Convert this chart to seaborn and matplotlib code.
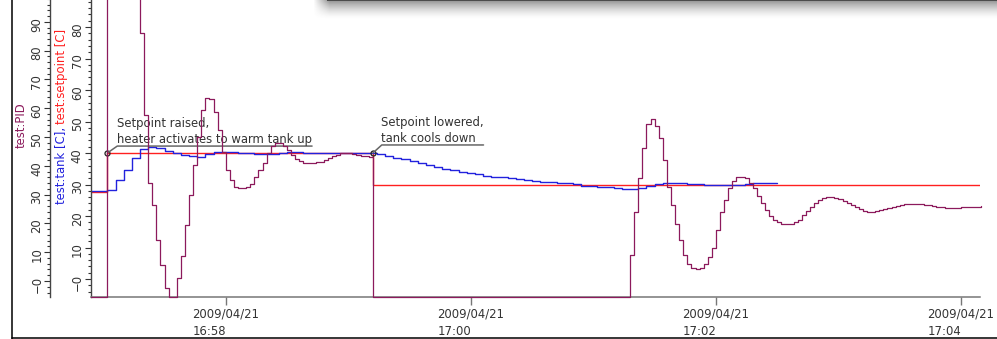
# ============================================================
#   Data Browser - test:PID / test:tank / test:setpoint
# ============================================================

import numpy as np
import pandas as pd
import matplotlib
matplotlib.use("Agg")
import matplotlib.pyplot as plt
import matplotlib.dates as mdates
from matplotlib.ticker import MultipleLocator, FixedLocator, FuncFormatter
from matplotlib.lines import Line2D
import seaborn as sns

# ------------------------------------------------------------
# 1. DADOS
# ------------------------------------------------------------

inicio = "2009-04-21 16:56:54"
fim = "2009-04-21 17:04:09.3"

# test:PID, uma amostra a cada 2 s (BAIXO = abaixo da escala)
BAIXO = -10
pid_passo_s = 2
pid = (
    [BAIXO] * 4
    + [100] * 8
    + [86, 57.6, 34, 26.4, 14.2, 5.6, -2.4]
    + [BAIXO] * 2
    + [1.0, 8.7, 19.4, 29.9, 40.3, 50, 59.4, 63.5, 63.2, 58.7, 52.4, 44.8,
       38.5, 35.1, 32.6, 32.3, 32.3, 32.6, 33.7, 36.1, 38.5, 41, 44.4, 46.9,
       47.9, 47.9, 46.9, 45.5, 43.8, 42.4, 41.7, 41, 41, 41, 41.3, 41.3,
       42, 42.7, 43.4, 43.8, 44.4, 44.4, 44.4, 44.1, 43.8, 43.4, 43.4, 43.1]
    + [BAIXO] * 63
    + [9.0, 24, 35.8, 46.2, 54.5, 56.3, 53.8, 49.7, 42, 32.6, 26.4, 19.8,
       14.2, 9.0, 5.9, 4.5, 4.2, 4.5, 5.9, 8.3, 11.5, 17.7, 24, 28.1,
       32.3, 34.7, 36.1, 36.1, 35.8, 34, 32.3, 29.5, 27.1, 24.7, 22.6, 21.2,
       20.5, 19.8, 19.8, 19.8, 20.5, 21.2, 22.9, 24.3, 25.7, 27.1, 28.1, 28.8,
       29.2, 29.2, 28.8, 28.5, 27.8, 27.1, 26.4, 25.7, 25, 24.3, 24, 24,
       24.3, 24.7, 25, 25.3, 25.7, 26, 26.4, 26.7, 26.7, 26.7, 26.7, 26.7,
       26.4, 26.4, 26, 25.7, 25.7, 25.3, 25.3, 25.3, 25.3, 25.7, 25.7, 25.7,
       25.7, 25.7, 26.0]
)

# test:tank [C], uma amostra a cada 4 s
tank_passo_s = 4
tank = [27.9, 27.9, 28.3, 31.4, 34.6, 38.4, 41.3, 41.9, 41.6, 40.6,
        40, 39.4, 39, 38.7, 39.7, 40.3, 40.3, 40.3, 40, 40,
        39.7, 39.7, 39.7, 40, 40.3, 40.3, 40, 40, 40, 40,
        40, 40, 40, 40, 40, 39.7, 39, 38.4, 38.1, 37.5,
        36.8, 36.2, 35.6, 34.9, 34.6, 34, 33.7, 33.3, 32.7, 32.4,
        32.4, 32.1, 31.7, 31.4, 31.1, 30.8, 30.8, 30.5, 30.5, 30.2,
        29.5, 29.5, 29.2, 29.2, 28.9, 28.6, 28.6, 28.9, 29.5, 30.2,
        30.5, 30.5, 30.5, 30.2, 30.2, 29.8, 29.8, 29.8, 29.8, 29.8,
        30.2, 30.5, 30.5, 30.5, 30.5]

# test:setpoint [C], valor a partir de cada instante
setpoint_horas = ["16:56:54", "16:57:02", "16:59:12", "17:04:10"]
setpoint = [27.6, 40, 30, 30]

# anotações
anot_horas = ["16:57:02", "16:59:12"]
anot_valores = [40, 40]
anot_textos = ["Setpoint raised,\nheater activates to warm tank up",
               "Setpoint lowered,\ntank cools down"]

xticks_horas = ["16:58", "17:00", "17:02", "17:04"]
xticks_rotulos = ["2009/04/21\n16:58", "2009/04/21\n17:00",
                  "2009/04/21\n17:02", "2009/04/21\n17:04"]

# marcas principais visíveis em cada eixo y
yticks_int = [0, 10, 20, 30, 40, 50, 60, 70, 80]
yticks_pid = [0, 10, 20, 30, 40, 50, 60, 70, 80, 90]

# ------------------------------------------------------------
# 2. TABELAS
# ------------------------------------------------------------

dia = "2009-04-21 "
df_pid = pd.DataFrame({
    "hora": pd.date_range(inicio, periods=len(pid), freq=f"{pid_passo_s}s"),
    "valor": pid,
})
df_tank = pd.DataFrame({
    "hora": pd.date_range(inicio, periods=len(tank), freq=f"{tank_passo_s}s"),
    "valor": tank,
})
df_sp = pd.DataFrame({
    "hora": pd.to_datetime([dia + h for h in setpoint_horas]),
    "valor": setpoint,
})

# ------------------------------------------------------------
# 3. ESTILO
# ------------------------------------------------------------

sns.set_theme(style="ticks")
plt.rcParams["font.family"] = ["DejaVu Sans"]
FS = 8.4

COR_PID = "#8c1a5c"
COR_TANK = "#2222dd"
COR_SP = "#ff2020"
COR_TXT = "#333333"

W, H = 997, 339
fig = plt.figure(figsize=(W / 100, H / 100), dpi=100)
fig.patch.set_facecolor("white")

# eixo interno (tank / setpoint) - topo fica acima da imagem
ax = fig.add_axes([91 / W, 42 / H, 889 / W, 344 / H])
ax_pid = ax.twinx()

LIM_INT = (-5.71, 103.5)
LIM_PID = (-5.56, 113.9)

# ------------------------------------------------------------
# 4. GRÁFICOS
# ------------------------------------------------------------

sns.lineplot(data=df_sp, x="hora", y="valor", ax=ax, color=COR_SP,
             drawstyle="steps-post", lw=1.0, errorbar=None)
sns.lineplot(data=df_tank, x="hora", y="valor", ax=ax, color=COR_TANK,
             drawstyle="steps-post", lw=1.0, errorbar=None)

# valores fora da escala ficam desenhados na borda inferior
df_pid["plot"] = df_pid["valor"].clip(lower=LIM_PID[0])
sns.lineplot(data=df_pid, x="hora", y="plot", ax=ax_pid, color=COR_PID,
             drawstyle="steps-post", lw=0.9, errorbar=None, clip_on=False)

ax.set_xlim(pd.Timestamp(inicio), pd.Timestamp(fim))
ax.set_ylim(*LIM_INT)
ax_pid.set_ylim(*LIM_PID)

for a in (ax, ax_pid):
    a.set_xlabel("")
    a.set_ylabel("")
    a.spines["top"].set_visible(False)
    a.spines["right"].set_visible(False)

# eixo externo (PID) à esquerda
ax_pid.spines["left"].set_visible(True)
ax_pid.spines["left"].set_position(("outward", 41 * 0.72))
ax_pid.yaxis.set_ticks_position("left")
ax_pid.spines["bottom"].set_visible(False)

fmt = FuncFormatter(lambda v, p: "\u22120" if abs(v) < 1e-9 else f"{v:.0f}")
for a, pad, marcas in ((ax, 0.8, yticks_int), (ax_pid, 0.4, yticks_pid)):
    a.yaxis.set_major_locator(FixedLocator(marcas))
    a.yaxis.set_minor_locator(MultipleLocator(2))
    a.yaxis.set_major_formatter(fmt)
    a.tick_params(axis="y", which="major", length=4.3, width=0.8,
                  color="#333333", labelsize=FS, labelcolor=COR_TXT,
                  labelrotation=90, pad=pad, left=True)
    a.tick_params(axis="y", which="minor", length=2.3, width=0.8,
                  color="#333333", left=True)
    a.spines["left"].set_color("#444444")
    a.spines["left"].set_linewidth(1.0)

# eixo do tempo
ax.set_xticks(mdates.date2num(pd.to_datetime([dia + h for h in xticks_horas])))
ax.set_xticklabels(xticks_rotulos, multialignment="left", linespacing=1.45)
ax.tick_params(axis="x", length=5.8, width=1.0, color="#777777",
               labelsize=FS, labelcolor=COR_TXT, pad=2, bottom=True)
ax.spines["bottom"].set_color("#777777")
ax.spines["bottom"].set_linewidth(1.1)

# rótulos dos eixos
fig.text(21 / W, 1 - 125 / H, "test:PID", rotation=90, ha="center",
         va="center", color=COR_PID, fontsize=FS)
y_meio = 1 - 127 / H
fig.text(62 / W, y_meio, "test:tank [C],", rotation=90, ha="center",
         va="top", color=COR_TANK, fontsize=FS)
fig.text(62 / W, y_meio + 3 / H, "test:setpoint [C]", rotation=90,
         ha="center", va="bottom", color=COR_SP, fontsize=FS)

# ------------------------------------------------------------
# 5. ANOTAÇÕES
# ------------------------------------------------------------

for hora, valor, texto, desl, ang in zip(anot_horas, anot_valores, anot_textos,
                                         [(7.0, 5.0), (5.8, 5.8)], [35, 42]):
    xd = mdates.date2num(pd.Timestamp(dia + hora))
    ax.plot([xd], [valor], marker="o", ms=3.6, mfc="none", mec="#222222",
            mew=0.9, zorder=6)
    ax.annotate(texto, xy=(xd, valor), xytext=desl, textcoords="offset points",
                ha="left", va="bottom", fontsize=FS, color=COR_TXT,
                linespacing=1.3, zorder=6,
                arrowprops=dict(arrowstyle="-", color="#666666", lw=1.1,
                                connectionstyle=f"angle,angleA=0,angleB={ang},rad=0",
                                relpos=(1, 0), patchA=None, shrinkA=0, shrinkB=0))

# ------------------------------------------------------------
# 6. MOLDURA E SOMBRA DA JANELA
# ------------------------------------------------------------

fig.add_artist(Line2D([12 / W, 12 / W], [0, 1], transform=fig.transFigure,
                      color="black", lw=1.1))
fig.add_artist(Line2D([12 / W, 1], [0.8 / H, 0.8 / H], transform=fig.transFigure,
                      color="black", lw=1.1))

hs, ws = 20, W - 313
yy = np.arange(hs)[:, None]
xx = np.arange(ws)[None, :]
sombra = np.zeros((hs, ws, 4))
sombra[..., :3] = 0.3
sombra[..., 3] = 0.6 * np.clip(1 - yy / (hs - 1), 0, 1) ** 1.6 * np.clip(xx / 16, 0, 1)
sombra[0, 14:, :3] = 0.3
sombra[0, 14:, 3] = 1.0
fig.figimage(sombra, xo=313, yo=H - hs, origin="upper", zorder=5)

fig.savefig("out.png", dpi=100)
